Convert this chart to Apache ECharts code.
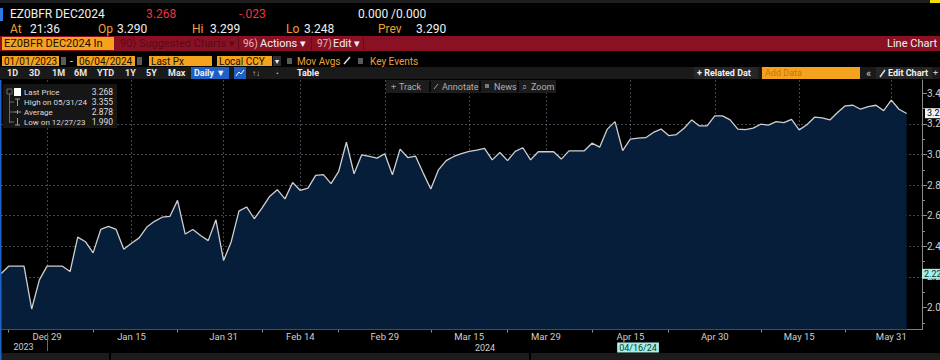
<!DOCTYPE html>
<html><head><meta charset="utf-8">
<script src="https://cdn.jsdelivr.net/npm/echarts@6/dist/echarts.min.js"></script>
<style>html,body{margin:0;padding:0;background:#000;overflow:hidden}#c{width:940px;height:360px}</style>
</head><body><div id="c"></div>
<script>
// ---- data ----
const dates = [
'2023-12-21','2023-12-22','2023-12-25','2023-12-26','2023-12-27','2023-12-28','2023-12-29',
'2024-01-01','2024-01-02','2024-01-03','2024-01-04','2024-01-05','2024-01-08','2024-01-09','2024-01-10','2024-01-11','2024-01-12',
'2024-01-15','2024-01-16','2024-01-17','2024-01-18','2024-01-19','2024-01-22','2024-01-23','2024-01-24','2024-01-25','2024-01-26',
'2024-01-29','2024-01-30','2024-01-31',
'2024-02-01','2024-02-02','2024-02-05','2024-02-06','2024-02-07','2024-02-08','2024-02-09','2024-02-12','2024-02-13','2024-02-14',
'2024-02-15','2024-02-16','2024-02-19','2024-02-20','2024-02-21','2024-02-22','2024-02-23','2024-02-26','2024-02-27','2024-02-28','2024-02-29',
'2024-03-01','2024-03-04','2024-03-05','2024-03-06','2024-03-07','2024-03-08','2024-03-11','2024-03-12','2024-03-13','2024-03-14','2024-03-15',
'2024-03-18','2024-03-19','2024-03-20','2024-03-21','2024-03-22','2024-03-25','2024-03-26','2024-03-27','2024-03-28','2024-03-29',
'2024-04-01','2024-04-02','2024-04-03','2024-04-04','2024-04-05','2024-04-08','2024-04-09','2024-04-10','2024-04-11','2024-04-12',
'2024-04-15','2024-04-16','2024-04-17','2024-04-18','2024-04-19','2024-04-22','2024-04-23','2024-04-24','2024-04-25','2024-04-26',
'2024-04-29','2024-04-30',
'2024-05-01','2024-05-02','2024-05-03','2024-05-06','2024-05-07','2024-05-08','2024-05-09','2024-05-10','2024-05-13','2024-05-14',
'2024-05-15','2024-05-16','2024-05-17','2024-05-20','2024-05-21','2024-05-22','2024-05-23','2024-05-24','2024-05-27','2024-05-28',
'2024-05-29','2024-05-30','2024-05-31',
'2024-06-03','2024-06-04','2024-06-05','2024-06-06'
];
const prices = [
2.22,2.27,2.27,2.27,1.99,2.18,2.27,
2.27,2.27,2.235,2.46,2.43,2.357,2.51,2.53,2.51,2.38,
2.42,2.455,2.526,2.563,2.59,2.595,2.70,2.48,2.51,2.47,
2.437,2.574,2.307,
2.43,2.63,2.657,2.58,2.65,2.726,2.77,2.71,2.817,2.765,
2.78,2.863,2.868,2.81,2.89,3.08,2.874,2.998,2.987,2.976,3.005,
2.868,3.035,2.98,2.99,2.88,2.774,2.90,2.96,2.987,3.005,3.02,
3.028,3.04,2.965,3.013,2.96,3.02,3.044,2.965,3.018,3.018,
3.018,2.97,3.024,3.024,3.024,3.074,3.048,3.166,3.215,3.026,
3.10,3.107,3.11,3.144,3.166,3.124,3.13,3.172,3.226,3.187,
3.187,3.252,
3.252,3.226,3.166,3.163,3.172,3.198,3.192,3.215,3.209,3.23,
3.161,3.194,3.244,3.24,3.226,3.274,3.318,3.322,3.296,3.313,
3.322,3.287,3.355,
3.296,3.268,null,null
];
const labelDates = ['2023-12-29','2024-01-15','2024-01-31','2024-02-14','2024-02-29','2024-03-15','2024-03-29','2024-04-15','2024-04-30','2024-05-15','2024-05-31'];
const minorTickDates = ['2023-12-22','2024-01-08','2024-01-23','2024-02-07','2024-02-21','2024-03-08','2024-03-22','2024-04-08','2024-04-22','2024-05-08','2024-05-23'];
const yMajorTicks = [2.0,2.2,2.4,2.6,2.8,3.0,3.2,3.4];
const yMinorTicks = [1.9,2.1,2.3,2.5,2.7,2.9,3.1,3.3];
const yearLabels = ['2023','2024'];
const statNames = ['Last Price','High on 05/31/24','Average','Low on 12/27/23'];
const statValues = ['3.268','3.355','2.878','1.990'];
const crosshairDate = '2024-04-16';
const crosshairValue = 2.222;

// ---- chart ----
const FONT = "Roboto, 'Liberation Sans', sans-serif";
const MON = ['Jan','Feb','Mar','Apr','May','Jun','Jul','Aug','Sep','Oct','Nov','Dec'];
const labelSet = new Set(labelDates);
const minorSet = new Set(minorTickDates);
let lastPrice = null;
for (let i = prices.length - 1; i >= 0; i--) { if (prices[i] != null) { lastPrice = prices[i]; break; } }
const fmtDay = v => MON[+v.slice(5,7)-1] + ' ' + (+v.slice(8,10));
const fmtUS = v => v.slice(5,7) + '/' + v.slice(8,10) + '/' + v.slice(2,4);

const G = [];
function rect(x,y,w,h,fill,z){G.push({type:'rect',shape:{x:x,y:y,width:w,height:h},style:{fill:fill},z:z||100,silent:true});}
function line(x1,y1,x2,y2,stroke,w){G.push({type:'line',shape:{x1:x1,y1:y1,x2:x2,y2:y2},style:{stroke:stroke,lineWidth:w||1},z:103,silent:true});}
function text(x,y,s,fill,size,align,weight){G.push({type:'text',x:x,y:y,z:104,silent:true,style:{text:s,fill:fill,fontSize:size,fontFamily:FONT,fontWeight:weight||'normal',align:align||'left',verticalAlign:'middle',textAlign:align||'left',textVerticalAlign:'middle'}});}

const WH='#f0f0f0', OR='#efa03a', RD='#f0323f', OB='#f5a21e', DK='#1a1000', BL='#1f60c4';
// top strip
rect(0,0,940,3,'#1e1e1e'); rect(930,0,10,3,'#f2e200');
rect(0,8,3,13,'#2d7be0');
// row 1
text(10,14,'EZ0BFR DEC2024',WH,12);
text(146,14,'3.268',RD,12);
text(239,14,'-.023',RD,12);
text(358,14,'0.000 /0.000',WH,12);
// row 2
text(10,29,'At',OR,12); text(30,29,'21:36',WH,12);
text(98,29,'Op',OR,12); text(117,29,'3.290',WH,12);
text(192,29,'Hi',OR,12); text(210,29,'3.299',WH,12);
text(286,29,'Lo',OR,12); text(304,29,'3.248',WH,12);
text(378,29,'Prev',OR,12); text(416,29,'3.290',WH,12);
// row 3 red menu bar
rect(0,36,940,15,'#8a1124');
rect(2,37,112,13,OB,101);
text(4,43.5,'EZ0BFR DEC2024 In',DK,11);
line(238.5,37,238.5,50,'#5e0a18',1); line(311.5,37,311.5,50,'#5e0a18',1); line(363.5,37,363.5,50,'#5e0a18',1);
text(120,43.5,'90) Suggested Charts \u25BE','#5a0a18',11);
text(243,43.5,'96)','#e8b4bc',10); text(260,43.5,'Actions \u25BE',WH,11);
text(317,43.5,'97)','#e8b4bc',10); text(333,43.5,'Edit \u25BE',WH,11);
text(887,43.5,'Line Chart',WH,11);
// row 4
rect(2,56,57,10,OB,101); text(4,61,'01/01/2023',DK,10);
rect(61,57,5,8,'#5a5a5a',101);
text(70,61,'-',WH,10);
rect(77,56,58,10,OB,101); text(79,61,'06/04/2024',DK,10);
rect(137,57,5,8,'#5a5a5a',101);
rect(149,56,63,10,OB,101); text(151,61,'Last Px',DK,10);
rect(217,56,55,10,OB,101); text(219,61,'Local CCY',DK,10);
rect(273,56,8,10,'#2e2e2e',101); text(277,61,'\u25BE',WH,8,'center');
rect(287,58,5,6,'#5a5a5a',101); text(297,61,'Mov Avgs',OR,10);
line(344,64,350,57,'#dddddd',1.5);
rect(358,58,5,6,'#5a5a5a',101); text(370,61,'Key Events',OR,10);
// row 5
rect(0,67,940,12,'#1a1a1a');
[['1D',7],['3D',29],['1M',52],['6M',74],['YTD',97],['1Y',125],['5Y',146],['Max',168]].forEach(a=>text(a[1],73,a[0],'#e6e6e6',9,'left','bold'));
rect(191,67,38,12,BL,101); text(194,73,'Daily \u25BC',WH,9,'left','bold');
rect(234,67,12,12,BL,101);
G.push({type:'polyline',shape:{points:[[236,76],[239,72],[241,74],[244,70]]},style:{stroke:'#fff',fill:null,lineWidth:1},z:103,silent:true});
text(252,73,'\u2191\u2193','#bdbdbd',8);
text(276,73,'\u2022','#bdbdbd',8);
text(297,73,'Table',WH,9,'left','bold');
rect(694,67,64,12,'#262626',101); text(697,73,'+ Related Dat',WH,9,'left','bold');
rect(762,67,98,12,OB,101); text(765,73,'Add Data','#c47510',9);
text(866,73,'\u00AB','#cccccc',11);
rect(876,67,56,12,'#262626',101); line(880,77,885,70,'#dddddd',1.5); text(888,73,'Edit Chart',WH,9,'left','bold');
text(933,73,'+','#cccccc',9);
// row 6 toolbar overlay
rect(386,80,170,13,'#1c1c1c',101);
line(430,81,430,92,'#000',1.5); line(480,81,480,92,'#000',1.5); line(518,81,518,92,'#000',1.5);
text(391,86.5,'+','#9a9a9a',9); text(399,86.5,'Track','#b0b0b0',9);
line(434,89,438,84,'#9a9a9a',1); text(442,86.5,'Annotate','#b0b0b0',9);
rect(485,84,4,4,'#7a7a7a',102); text(494,86.5,'News','#b0b0b0',9);
text(522,86.5,'\u2315','#9a9a9a',9); text(531,86.5,'Zoom','#b0b0b0',9);
// stats legend box
rect(3,84,114,44,'#161616');
rect(14,88,7,8,'#ffffff',102);
G.push({type:'rect',shape:{x:7,y:89,width:5,height:5},style:{fill:null,stroke:'#6a6a6a',lineWidth:1},z:103,silent:true});
line(9.5,94,9.5,123,'#6a6a6a',1);
line(9.5,102,14,102,'#6a6a6a',1); line(9.5,112,14,112,'#6a6a6a',1); line(9.5,122,14,122,'#6a6a6a',1);
line(17.5,99,17.5,106,'#9a9a9a',1); line(15,99,20,99,'#9a9a9a',1);
line(14,112,21,112,'#9a9a9a',1); line(17.5,110,17.5,114,'#9a9a9a',1);
line(17.5,118,17.5,125,'#9a9a9a',1); line(15,125,20,125,'#9a9a9a',1);
statNames.forEach((n,i)=>{ text(24,92+i*10,n,'#dcdcdc',8); text(113,92+i*10,statValues[i],'#dcdcdc',8.5,'right'); });
// years under axis
line(47.5,333,47.5,351,'#6a6a6a',1);
text(23.5,347,yearLabels[0],'#cfcfcf',9,'center');
text(485,347.5,yearLabels[1],'#cfcfcf',9,'center');
// bottom bar + left edge
rect(0,353,940,7,'#1c1c1c');
line(110,353,110,360,'#000',2); line(530,353,530,360,'#000',2);
rect(0,80,1.5,280,'#1d63c8',105);

const GRID_LINE = {color:'rgba(125,140,158,0.5)', type:[2,2], width:1};
const Y_MIN = 1.856, Y_MAX = 3.487;

const option = {
  backgroundColor:'#000',
  animation:false,
  textStyle:{fontFamily:FONT},
  grid:{left:1,right:18,top:80,bottom:30.5,containLabel:false,outerBoundsMode:'none'},
  xAxis:{
    type:'category', data:dates, boundaryGap:false,
    axisLine:{show:true,lineStyle:{color:'#808080',width:1}},
    axisTick:{show:true,interval:(i,v)=>minorSet.has(v),length:3,lineStyle:{color:'#909090'}},
    axisLabel:{interval:(i,v)=>labelSet.has(v),formatter:fmtDay,color:'#cfcfcf',fontSize:9.5,margin:2,fontFamily:FONT},
    splitLine:{show:true,interval:(i,v)=>labelSet.has(v),lineStyle:GRID_LINE}
  },
  yAxis:[{
    type:'value', position:'right', min:Y_MIN, max:Y_MAX, splitNumber:8,
    axisLine:{show:true,lineStyle:{color:'#8a8a8a',width:1}},
    axisTick:{show:true,length:5,customValues:yMajorTicks,lineStyle:{color:'#8a8a8a'}},
    axisLabel:{customValues:yMajorTicks,formatter:v=>v.toFixed(1),color:'#cfcfcf',fontSize:10,margin:5,fontFamily:FONT,showMinLabel:true,showMaxLabel:true},
    splitLine:{show:true,showMinLine:false,showMaxLine:false,lineStyle:GRID_LINE}
  },{
    type:'value', position:'right', min:Y_MIN, max:Y_MAX,
    axisLine:{show:false},
    axisTick:{show:true,length:3,customValues:yMinorTicks,lineStyle:{color:'#8a8a8a'}},
    axisLabel:{show:false},
    splitLine:{show:false}
  }],
  series:[{
    type:'line', name:'Last Price', data:prices, yAxisIndex:0,
    symbol:'none', smooth:false,
    lineStyle:{color:'#cfcfcf',width:1.3},
    areaStyle:{color:'#061e3a',opacity:1,origin:'start'},
    z:2,
    markLine:{
      silent:true, symbol:['none','none'], animation:false,
      data:[
        {yAxis:lastPrice, lineStyle:{color:'rgba(0,0,0,0)',width:0},
         label:{show:true,position:'end',distance:3,formatter:()=>lastPrice.toFixed(3),backgroundColor:'#f2f2f2',color:'#000',fontSize:9,padding:[1,2,0,2],fontFamily:FONT}},
        {yAxis:crosshairValue, lineStyle:{color:'rgba(0,0,0,0)',width:0},
         label:{show:true,position:'end',distance:0,formatter:()=>crosshairValue.toFixed(3),backgroundColor:'#a9efe7',color:'#063a34',fontSize:9,padding:[1,2,0,2],fontFamily:FONT}},
        {xAxis:crosshairDate, lineStyle:{color:'rgba(0,0,0,0)',width:0},
         label:{show:true,position:'start',distance:13,formatter:()=>fmtUS(crosshairDate),backgroundColor:'#a9efe7',color:'#063a34',fontSize:9,padding:[1,2,0,2],fontFamily:FONT}}
      ]
    }
  }],
  graphic:G
};
const chart = echarts.init(document.getElementById('c'), null, {renderer:'svg', width:940, height:360});
chart.setOption(option);
</script>
</body></html>
